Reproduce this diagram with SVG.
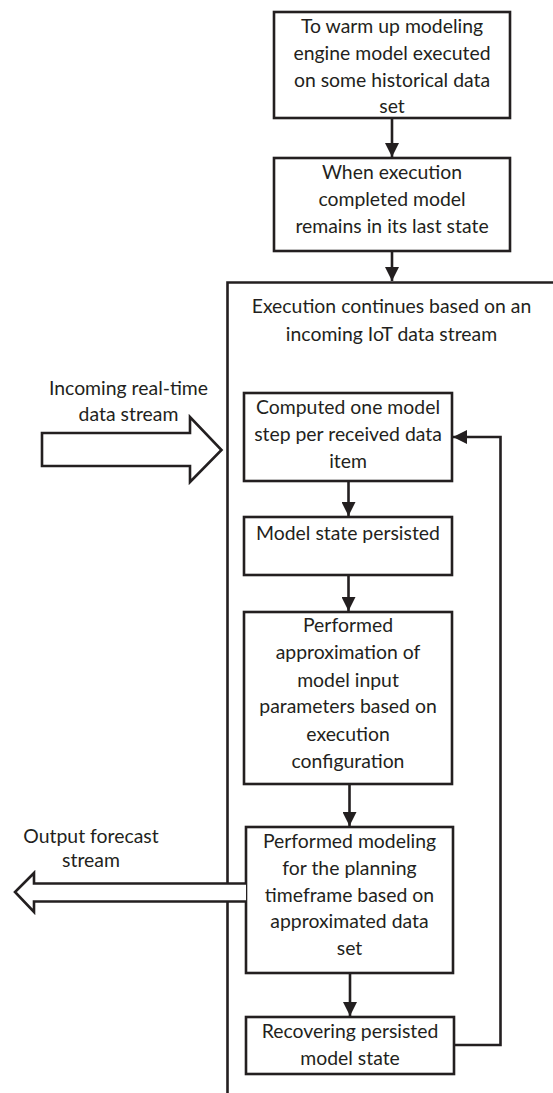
<svg xmlns="http://www.w3.org/2000/svg" width="553" height="1093" viewBox="0 0 553 1093">
  <style>
    .box { fill: #ffffff; stroke: #231f20; stroke-width: 2.6; }
    .line { fill: none; stroke: #231f20; stroke-width: 2.6; }
    .bigarrow { fill: #ffffff; stroke: #231f20; stroke-width: 2.6; stroke-linejoin: miter; }
    text { font-family: Lato, "Open Sans", "Liberation Sans", sans-serif; font-size: 19.4px; fill: #231f20; text-anchor: middle; }
  </style>
  <defs>
    <marker id="head" markerUnits="userSpaceOnUse" markerWidth="15" markerHeight="14" refX="14" refY="7" orient="auto">
      <path d="M0,0 L14,7 L0,14 z" fill="#231f20"/>
    </marker>
  </defs>

  <!-- stream container: open frame with top and left edges only -->
  <g id="container">
    <path class="line" d="M553,282.5 H227.5 V1093"/>
    <text x="391.5" y="313">Execution continues based on an</text>
    <text x="391.5" y="341">incoming IoT data stream</text>
  </g>

  <g id="connectors">
    <path class="line" d="M392,118 V157" marker-end="url(#head)"/>
    <path class="line" d="M392,251 V281" marker-end="url(#head)"/>
    <path class="line" d="M348.5,481 V516" marker-end="url(#head)"/>
    <path class="line" d="M348.5,575 V611" marker-end="url(#head)"/>
    <path class="line" d="M349.5,784 V826" marker-end="url(#head)"/>
    <path class="line" d="M350,973 V1016" marker-end="url(#head)"/>
    <!-- feedback loop back to the model step -->
    <path class="line" d="M454,1045 H500.5 V437 H453" marker-end="url(#head)"/>
  </g>

  <g id="warmup">
    <rect class="box" x="274" y="12" width="236" height="106"/>
    <text x="392" y="33">To warm up modeling</text>
    <text x="392" y="60">engine model executed</text>
    <text x="392" y="87">on some historical data</text>
    <text x="392" y="113">set</text>
  </g>

  <g id="last-state">
    <rect class="box" x="274" y="158" width="236" height="93"/>
    <text x="392" y="179">When execution</text>
    <text x="392" y="206">completed model</text>
    <text x="392" y="233">remains in its last state</text>
  </g>

  <g id="model-step">
    <rect class="box" x="244" y="393" width="208" height="88"/>
    <text x="348" y="414">Computed one model</text>
    <text x="348" y="441">step per received data</text>
    <text x="348" y="468">item</text>
  </g>

  <g id="persist">
    <rect class="box" x="244" y="517" width="208" height="58"/>
    <text x="348" y="540">Model state persisted</text>
  </g>

  <g id="approximation">
    <rect class="box" x="244" y="612" width="208" height="172"/>
    <text x="348" y="632">Performed</text>
    <text x="348" y="659">approximation of</text>
    <text x="348" y="687">model input</text>
    <text x="348" y="713">parameters based on</text>
    <text x="348" y="741">execution</text>
    <text x="348" y="768">configuration</text>
  </g>

  <g id="modeling">
    <rect class="box" x="246" y="827" width="207" height="146"/>
    <text x="349.5" y="848">Performed modeling</text>
    <text x="349.5" y="875">for the planning</text>
    <text x="349.5" y="902">timeframe based on</text>
    <text x="349.5" y="928">approximated data</text>
    <text x="349.5" y="955">set</text>
  </g>

  <g id="recover">
    <rect class="box" x="246" y="1017" width="208" height="57"/>
    <text x="350" y="1038">Recovering persisted</text>
    <text x="350" y="1065">model state</text>
  </g>

  <g id="input-stream">
    <path class="bigarrow" d="M42,433 H190 V417 L221.5,450 L190,482 V466 H42 Z"/>
    <text x="128.5" y="395">Incoming real-time</text>
    <text x="128.5" y="421">data stream</text>
  </g>

  <g id="output-stream">
    <path class="bigarrow" d="M246,883.5 H34 V873 L15,892 L34,912 V901.5 H246"/>
    <text x="91" y="843">Output forecast</text>
    <text x="91" y="867">stream</text>
  </g>
</svg>
